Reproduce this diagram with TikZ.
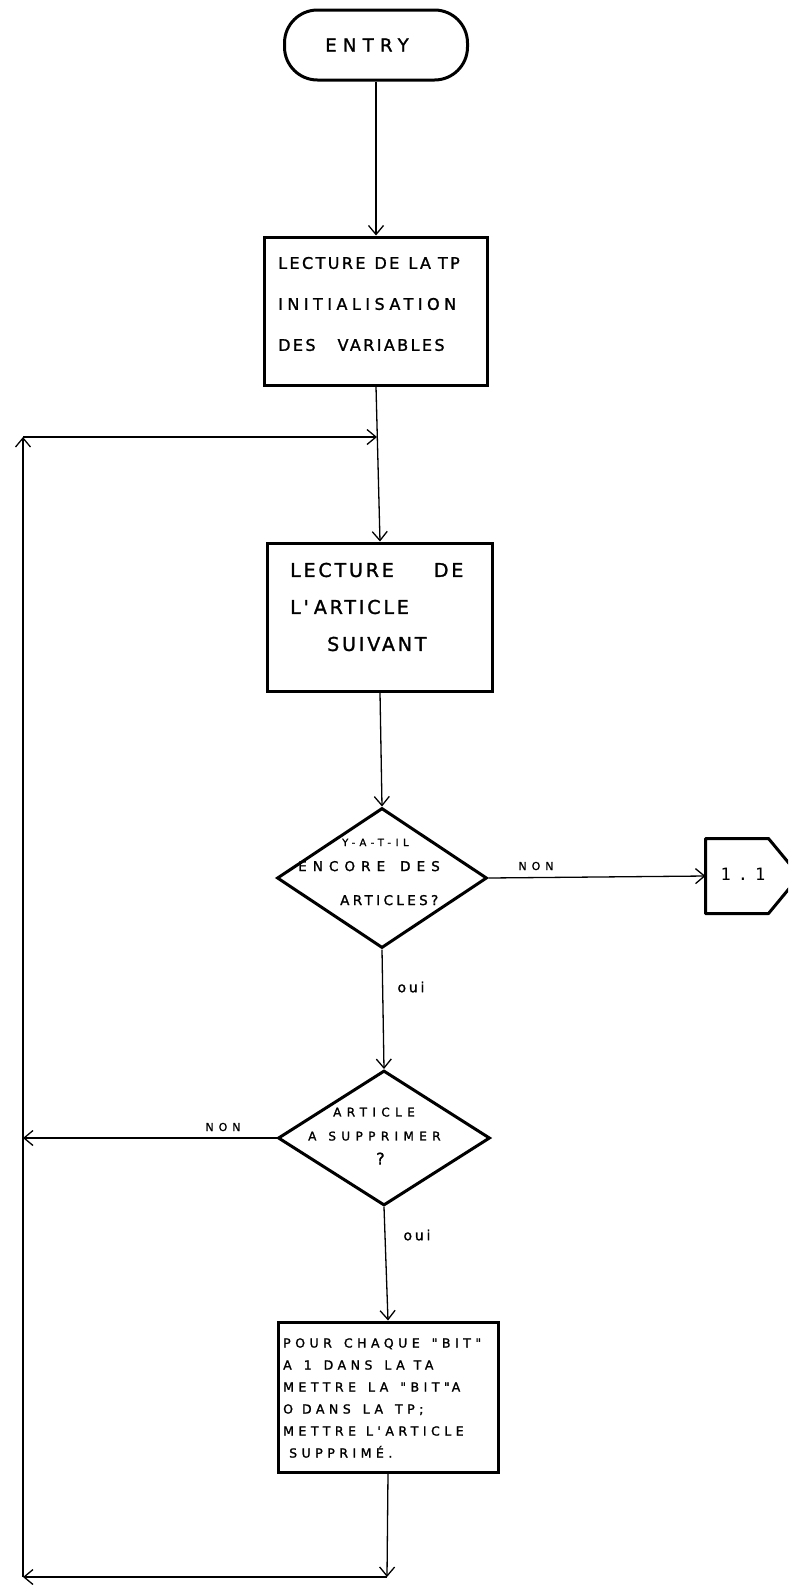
\documentclass[tikz,border=0pt]{standalone}
\usepackage{fontspec}
\setmainfont{DejaVu Sans}
\newfontfamily\hand[FakeBold=1.4]{DejaVu Sans}
\newfontfamily\typed{DejaVu Sans Mono}
\newcommand\gp[1][8pt]{\hspace{#1}}
\usetikzlibrary{shapes.geometric,arrows.meta}
\begin{document}
\begin{tikzpicture}[x=1pt,y=-1pt,
  box/.style={draw,line width=3pt,rectangle,inner sep=0pt},
  term/.style={draw,line width=3pt,rounded corners=33pt,inner sep=0pt},
  dia/.style={draw,line width=3pt,diamond,inner sep=0pt},
  conn/.style={line width=1.3pt,-{Straight Barb[length=9pt,width=15pt,line width=1.3pt]}},
  btext/.style={anchor=west,align=left,inner sep=0pt},
  lbl/.style={inner sep=0pt,font=\hand\addfontfeature{LetterSpace=45}\fontsize{11}{12}\selectfont},
  lblo/.style={inner sep=0pt,font=\hand\addfontfeature{LetterSpace=20}\fontsize{14}{16}\selectfont}
]
\useasboundingbox (0,0) rectangle (788,1585);
\fill[white] (0,0) rectangle (788,1585);
\clip (0,0) rectangle (788,1585);

% ENTRY
\node[term,minimum width=183,minimum height=70,
  font=\hand\addfontfeature{LetterSpace=35}\fontsize{18}{20}\selectfont]
  (entry) at (376,45) {ENTRY\hspace*{18pt}};

% box 1
\node[box,minimum width=223,minimum height=148] (box1) at (376,311) {};
\node[btext,font=\hand\addfontfeature{LetterSpace=15}\fontsize{16}{41}\selectfont]
  (b1t) at (278,304) {LECTURE\gp[9pt]DE\gp[9pt]LA\gp[7pt]TP\\{\addfontfeature{LetterSpace=28}INITIALISATION}\\DES\gp[22pt]VARIABLES};

% box 2
\node[box,minimum width=225,minimum height=148] (box2) at (380,617) {};
\node[btext,font=\hand\addfontfeature{LetterSpace=15}\fontsize{19}{37}\selectfont]
  (b2t) at (290,607) {LECTURE\gp[40pt]DE\\L'\gp[5pt]ARTICLE\\\hspace*{37pt}SUIVANT};

% decision 1
\node[dia,minimum width=210,minimum height=140] (d1) at (382,878) {};
\node[btext,font=\hand\addfontfeature{LetterSpace=45}\fontsize{13.5}{25}\selectfont]
  (d1t) at (298,872) {\hspace*{44pt}{\fontsize{10}{25}\selectfont Y-A-T-IL}\\ENCORE\gp[15pt]DES\\[9pt]\hspace*{42pt}{\addfontfeature{LetterSpace=25}ARTICLES?}};

% connector 1.1
\node[inner sep=0pt,outer sep=1.5pt,minimum width=60,minimum height=72] (c11) at (737,876) {};
\draw[line width=3pt,line join=round] (c11.north west) -- (c11.north east)
  -- ([xshift=31pt]c11.east) -- (c11.south east) -- (c11.south west) -- cycle;
\node[inner sep=0pt,font=\typed\fontsize{17}{20}\selectfont] (c11t) at (743,874)
  {1\hspace{7pt}.\hspace{7pt}1};

% decision 2
\node[dia,minimum width=212,minimum height=135] (d2) at (384,1138) {};
\node[btext,font=\hand\addfontfeature{LetterSpace=45}\fontsize{12}{24}\selectfont]
  (d2t) at (308,1136) {\hspace*{25pt}ARTICLE\\A\gp[12pt]SUPPRIMER\\\hspace*{68pt}{\fontsize{16}{24}\selectfont ?}};

% box 3
\node[box,minimum width=220,minimum height=150] (box3) at (388,1397) {};
\node[btext,font=\hand\addfontfeature{LetterSpace=36}\fontsize{12.5}{22}\selectfont]
  (b3t) at (283,1398) {POUR\gp[12pt]CHAQUE\gp[12pt]"BIT"\\A\gp[12pt]1\gp[12pt]DANS\gp[12pt]LA\gp[9pt]TA\\METTRE\gp[12pt]LA\gp[12pt]"BIT"\gp[2pt]A\\O\gp[9pt]DANS\gp[12pt]LA\gp[12pt]TP;\\METTRE\gp[10pt]L'ARTICLE\\\hspace*{6pt}SUPPRIMÉ.};

% labels
\node[lbl] (non1) at (536,866) {NON};
\node[lblo] (oui1) at (411,987) {oui};
\node[lbl] (non2) at (223,1127) {NON};
\node[lblo] (oui2) at (417,1235) {oui};

% free ends
\coordinate (lt) at (23,437);
\coordinate (j1) at (377,437);
\coordinate (ln) at (23,1138);
\coordinate (bb) at (387,1577);
\coordinate (lb) at (23,1577);

% connectors
\draw[conn] (entry.south) -- (box1.north);
\draw[conn] (box1.south) -- (box2.north);
\draw[conn] (box2.south) -- (d1.north);
\draw[conn] (d1.east) -- (c11.west);
\draw[conn] (d1.south) -- (d2.north);
\draw[conn] (d2.west) -- (ln);
\draw[conn] (d2.south) -- (box3.north);
\draw[conn] (box3.south) -- (bb);
\draw[conn] (bb) -- (lb);
\draw[conn] (lb) -- (lt);
\draw[conn] (lt) -- (j1);
\end{tikzpicture}
\end{document}
